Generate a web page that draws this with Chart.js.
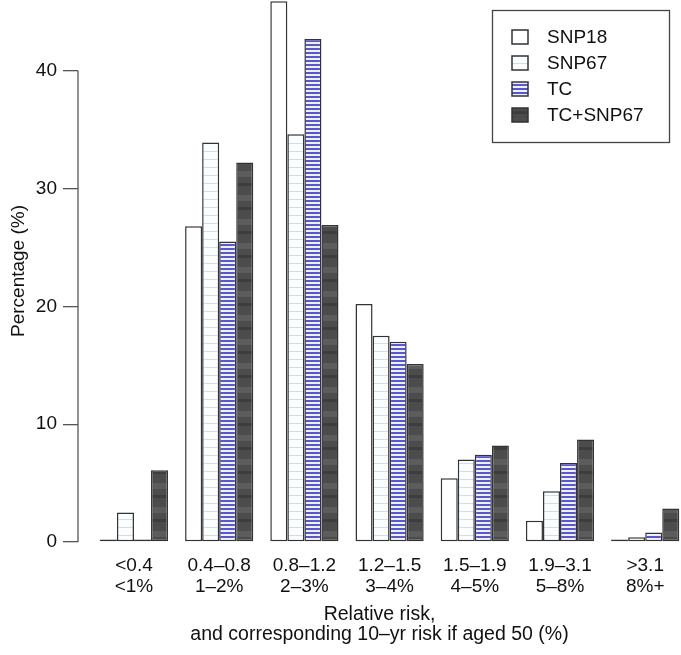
<!DOCTYPE html>
<html>
<head>
<meta charset="utf-8">
<script src="https://cdn.jsdelivr.net/npm/chart.js@4"></script>
<style>
    html, body { margin: 0; padding: 0; background: #fff; overflow: hidden; }
    #chart { display: block; }
</style>
</head>
<body>
<canvas id="chart" width="681" height="655"></canvas>
<script>
// Categorias del eje x (riesgo relativo y riesgo a 10 años)
const riskRanges = ['<0.4', '0.4–0.8', '0.8–1.2', '1.2–1.5', '1.5–1.9', '1.9–3.1', '>3.1'];
const tenYearRisk = ['<1%', '1–2%', '2–3%', '3–4%', '4–5%', '5–8%', '8%+'];

// Series (porcentaje)
const seriesNames = ['SNP18', 'SNP67', 'TC', 'TC+SNP67'];
const snp18 = [0.1, 26.8, 45.9, 20.2, 5.4, 1.8, 0.1];
const snp67 = [2.5, 33.9, 34.6, 17.5, 7.0, 4.3, 0.4];
const tc = [0.2, 25.5, 42.7, 17.0, 7.4, 6.7, 0.8];
const tcSnp67 = [6.1, 32.2, 26.9, 15.1, 8.2, 8.7, 2.85];

const yTicks = [0, 10, 20, 30, 40];

const FONT = "'Liberation Sans', Arial, Helvetica, sans-serif";
const TEXT = '#111';
const EDGE = '#333';

// Patrones de relleno
function makePattern(w, h, draw) {
    const c = document.createElement('canvas');
    c.width = w;
    c.height = h;
    draw(c.getContext('2d'));
    return c.getContext('2d').createPattern(c, 'repeat');
}

const fillSnp18 = '#ffffff';
const fillSnp67 = makePattern(4, 8, function (g) {
    g.fillStyle = '#fbfdff';
    g.fillRect(0, 0, 4, 8);
    g.fillStyle = '#cfdeec';
    g.fillRect(0, 7, 4, 1);
});
const fillTc = makePattern(4, 4, function (g) {
    g.fillStyle = '#f2f2ff';
    g.fillRect(0, 0, 4, 4);
    g.fillStyle = '#5454e6';
    g.fillRect(0, 0, 4, 2);
});
const fillTcSnp67 = makePattern(4, 24, function (g) {
    g.fillStyle = '#4c4c4c';
    g.fillRect(0, 0, 4, 24);
    g.fillStyle = '#5c5c5c';
    g.fillRect(0, 3, 4, 6);
    g.fillStyle = '#3e3e3e';
    g.fillRect(0, 15, 4, 3);
});

const fills = [fillSnp18, fillSnp67, fillTc, fillTcSnp67];
const seriesValues = [snp18, snp67, tc, tcSnp67];

// Eje y estilo R: linea solo de 0 a 40
const axisLinePlugin = {
    id: 'axisLine',
    afterDraw(chart) {
        const y = chart.scales.y;
        const ctx = chart.ctx;
        ctx.save();
        ctx.strokeStyle = '#555';
        ctx.lineWidth = 1.3;
        ctx.beginPath();
        ctx.moveTo(y.right, y.getPixelForValue(yTicks[0]));
        ctx.lineTo(y.right, y.getPixelForValue(yTicks[yTicks.length - 1]));
        ctx.stroke();
        ctx.restore();
    }
};

// Leyenda con marco
const boxLegendPlugin = {
    id: 'boxLegend',
    afterDraw(chart) {
        const ctx = chart.ctx;
        ctx.save();
        ctx.strokeStyle = '#444';
        ctx.lineWidth = 1.3;
        ctx.strokeRect(492.5, 10.5, 177, 132);
        ctx.font = '19px ' + FONT;
        ctx.textBaseline = 'middle';
        ctx.textAlign = 'left';
        seriesNames.forEach(function (name, i) {
            const cy = 37 + i * 26;
            ctx.fillStyle = fills[i];
            ctx.fillRect(512, cy - 7, 16, 14);
            ctx.strokeStyle = EDGE;
            ctx.lineWidth = 1.5;
            ctx.strokeRect(512, cy - 7, 16, 14);
            ctx.fillStyle = TEXT;
            ctx.fillText(name, 547, cy + 1);
        });
        ctx.restore();
    }
};

const ctx = document.getElementById('chart').getContext('2d');
new Chart(ctx, {
    type: 'bar',
    data: {
        datasets: seriesNames.map(function (name, i) {
            return {
                label: name,
                data: seriesValues[i].map((v, k) => ({x: k, y: v})),
                backgroundColor: fills[i],
                borderColor: EDGE,
                borderWidth: 1.5,
                borderSkipped: false,
                minBarLength: 2.5,
                categoryPercentage: 0.8,
                barPercentage: 1.0
            };
        })
    },
    options: {
        responsive: false,
        animation: false,
        layout: { padding: 0 },
        plugins: {
            legend: { display: false },
            tooltip: { enabled: false }
        },
        scales: {
            x: {
                type: 'linear',
                min: -0.657,
                max: 6.42,
                offset: false,
                grid: { display: false, drawTicks: false },
                border: { display: false },
                afterBuildTicks: function (s) {
                    s.ticks = riskRanges.map((_, k) => ({value: k}));
                },
                ticks: {
                    autoSkip: false,
                    maxRotation: 0,
                    padding: 13,
                    color: TEXT,
                    font: { family: FONT, size: 19, lineHeight: 1.1 },
                    callback: function (value) {
                        return [riskRanges[value], tenYearRisk[value]];
                    }
                },
                title: {
                    display: true,
                    text: ['Relative risk,', 'and corresponding 10–yr risk if aged 50 (%)'],
                    color: TEXT,
                    font: { family: FONT, size: 19.5, lineHeight: 1.05 },
                    padding: { top: 0, bottom: 10 }
                },
                afterFit: function (s) {
                    s.height = 113;
                    s.paddingLeft = 0;
                    s.paddingRight = 0;
                }
            },
            y: {
                min: 0,
                max: 46,
                afterBuildTicks: function (s) {
                    s.ticks = yTicks.map(v => ({value: v}));
                },
                grid: {
                    display: true,
                    drawOnChartArea: false,
                    drawTicks: true,
                    tickLength: 15,
                    color: '#555',
                    lineWidth: 1.3
                },
                border: { display: false },
                ticks: {
                    padding: 6,
                    color: TEXT,
                    font: { family: FONT, size: 19 }
                },
                title: {
                    display: true,
                    text: 'Percentage (%)',
                    color: TEXT,
                    font: { family: FONT, size: 19, lineHeight: 1.2 },
                    padding: { top: 7, bottom: 0 }
                },
                afterFit: function (s) {
                    s.width = 78;
                    s.paddingTop = 0;
                    s.paddingBottom = 0;
                }
            }
        }
    },
    plugins: [axisLinePlugin, boxLegendPlugin]
});
</script>
</body>
</html>
